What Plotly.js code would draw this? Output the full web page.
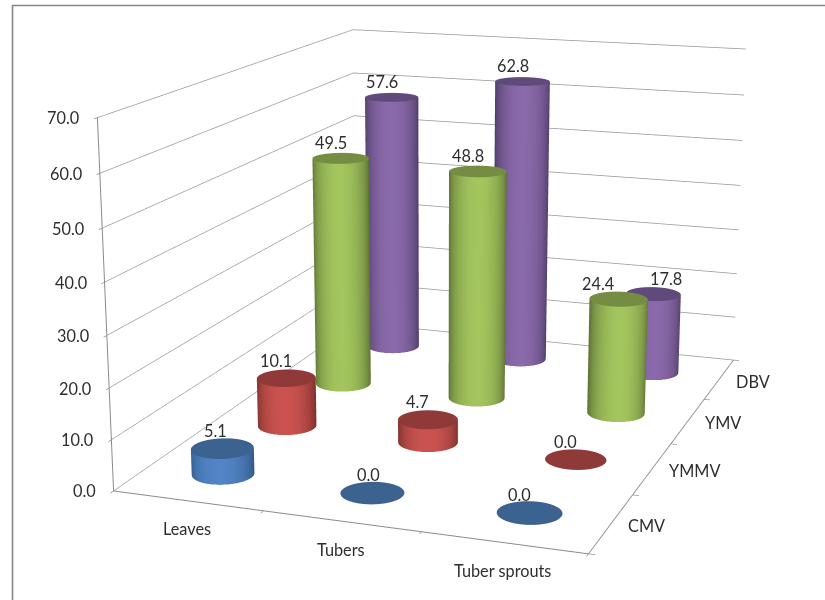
<!DOCTYPE html>
<html>
<head>
<meta charset="utf-8">
<script src="https://cdn.plot.ly/plotly-3.0.1.min.js"></script>
<style>
  html, body { margin: 0; padding: 0; width: 825px; height: 600px; overflow: hidden; background: #fff; }
  /* Tall stage: the scene's focal length follows its height, so a long lens needs a tall stage. */
  #chart { position: absolute; left: 0; top: -556px; width: 870px; height: 1712px; }
</style>
</head>
<body>
<div id="chart"></div>
<script>
// Virus incidence per plant part
const plantParts = ['Leaves', 'Tubers', 'Tuber sprouts'];
const viruses = ['CMV', 'YMMV', 'YMV', 'DBV'];
const cmv = [5.1, 0.0, 0.0];
const ymmv = [10.1, 4.7, 0.0];
const ymv = [49.5, 48.8, 24.4];
const dbv = [57.6, 62.8, 17.8];
const valueTicks = [0, 10, 20, 30, 40, 50, 60, 70];

// Side shading runs from edge to centre; the cap is flat.
const seriesStyles = [
  { values: cmv, centre: [82, 133, 198], edge: [48, 86, 134], cap: '#3c6290' },
  { values: ymmv, centre: [203, 83, 79], edge: [118, 46, 44], cap: '#8f3a38' },
  { values: ymv, centre: [163, 197, 93], edge: [88, 108, 50], cap: '#758d43' },
  { values: dbv, centre: [138, 106, 170], edge: [74, 56, 98], cap: '#604a7b' }
];

const radius = 0.195;
const segments = 64;
const viewAngle = 19 * Math.PI / 180;

function mix(a, b, t) {
  return 'rgb(' + a.map((v, n) => Math.round(v + (b[n] - v) * t)).join(',') + ')';
}

function cylinderTraces(style, row) {
  const side = { x: [], y: [], z: [], i: [], j: [], k: [], vertexcolor: [] };
  const cap = { x: [], y: [], z: [], i: [], j: [], k: [] };
  style.values.forEach((value, col) => {
    const cx = col + 0.5, cy = row + 0.5;
    const base = side.x.length;
    for (let s = 0; s <= segments; s++) {
      const a = 2 * Math.PI * s / segments;
      const dx = Math.cos(a), dy = Math.sin(a);
      // how squarely this part of the wall faces the viewer
      const facing = Math.max(0, dx * Math.sin(viewAngle) - dy * Math.cos(viewAngle));
      const colour = mix(style.edge, style.centre, Math.pow(facing, 1.2));
      [0, value].forEach(h => {
        side.x.push(cx + radius * dx);
        side.y.push(cy + radius * dy);
        side.z.push(h);
        side.vertexcolor.push(colour);
      });
      if (s < segments) {
        const p = base + 2 * s;
        side.i.push(p, p + 1);
        side.j.push(p + 1, p + 3);
        side.k.push(p + 2, p + 2);
      }
    }
    const hub = cap.x.length;
    cap.x.push(cx); cap.y.push(cy); cap.z.push(value);
    for (let s = 0; s <= segments; s++) {
      const a = 2 * Math.PI * s / segments;
      cap.x.push(cx + radius * Math.cos(a));
      cap.y.push(cy + radius * Math.sin(a));
      cap.z.push(value);
      if (s < segments) { cap.i.push(hub); cap.j.push(hub + 1 + s); cap.k.push(hub + 2 + s); }
    }
  });
  const flat = { ambient: 1, diffuse: 0, specular: 0, fresnel: 0, roughness: 1 };
  return [
    Object.assign({ type: 'mesh3d', name: viruses[row], lighting: flat, hoverinfo: 'skip', showscale: false }, side),
    Object.assign({ type: 'mesh3d', name: viruses[row], color: style.cap, lighting: flat, hoverinfo: 'skip', showscale: false }, cap)
  ];
}

const traces = seriesStyles.flatMap(cylinderTraces);

const textFont = { family: 'Lato, sans-serif', size: 16.3, color: '#2e2e2e' };
const annotations = [];

// A few labels sit apart so the neighbouring cylinders do not crowd them.
const labelNudge = { '0,0': -7, '0,1': -4, '2,2': -21, '3,2': 13 };
seriesStyles.forEach((style, row) => style.values.forEach((value, col) => {
  const nudge = labelNudge[row + ',' + col];
  annotations.push({
    x: col + 0.5, y: row + 0.5, z: value, text: value.toFixed(1), showarrow: false,
    xshift: nudge === undefined ? -10 : nudge, yshift: row < 2 ? 18 : 16, font: textFont
  });
}));
valueTicks.forEach(v => annotations.push({
  x: 0, y: 0, z: v, text: v.toFixed(1), showarrow: false,
  xanchor: 'right', xshift: -16, yshift: 0, font: textFont
}));
plantParts.forEach((name, col) => annotations.push({
  x: col + 0.5, y: 0, z: 0, text: name, showarrow: false, xshift: -1, yshift: -28, font: textFont
}));
viruses.forEach((name, row) => annotations.push({
  x: 3, y: row + 0.5, z: 0, text: name, showarrow: false, xanchor: 'left', xshift: 15, yshift: -2, font: textFont
}));

const baseAxis = {
  title: { text: '' }, showbackground: false, showgrid: false, zeroline: false, showspikes: false,
  showticklabels: false, showline: true, linecolor: '#8a8a8a', linewidth: 2,
  ticks: 'outside', ticklen: 5, tickcolor: '#8a8a8a', tickwidth: 1.5
};

const layout = {
  width: 870, height: 1712,
  margin: { l: 0, r: 0, t: 0, b: 0 },
  paper_bgcolor: '#ffffff',
  showlegend: false,
  shapes: [{
    type: 'rect', xref: 'paper', yref: 'paper', layer: 'below',
    x0: 12.5 / 870, x1: 1, y0: 1 - (561.5 / 1712), y1: 0,
    line: { color: '#868686', width: 1.6 }, fillcolor: 'rgba(0,0,0,0)'
  }],
  scene: {
    domain: { x: [0, 1], y: [0, 1] },
    bgcolor: 'rgba(0,0,0,0)',
    aspectmode: 'manual',
    aspectratio: { x: 0.9109, y: 1.212, z: 0.6999 },
    camera: {
      eye: { x: 1.3157, y: -3.7989, z: 0.9955 },
      center: { x: 0.0256, y: -0.182, z: -0.0479 },
      up: { x: -0.0014, y: 0, z: 1 }
    },
    xaxis: Object.assign({}, baseAxis, { range: [0, 3], tickmode: 'array', tickvals: [0, 1, 2, 3] }),
    yaxis: Object.assign({}, baseAxis, { range: [0, 4], tickmode: 'array', tickvals: [0, 1, 2, 3, 4] }),
    zaxis: Object.assign({}, baseAxis, {
      range: [0, 70], tickmode: 'array', tickvals: valueTicks,
      showgrid: true, gridcolor: '#969696', gridwidth: 1.5
    }),
    annotations: annotations
  }
};

Plotly.newPlot('chart', traces, layout, { displayModeBar: false });
</script>
</body>
</html>
